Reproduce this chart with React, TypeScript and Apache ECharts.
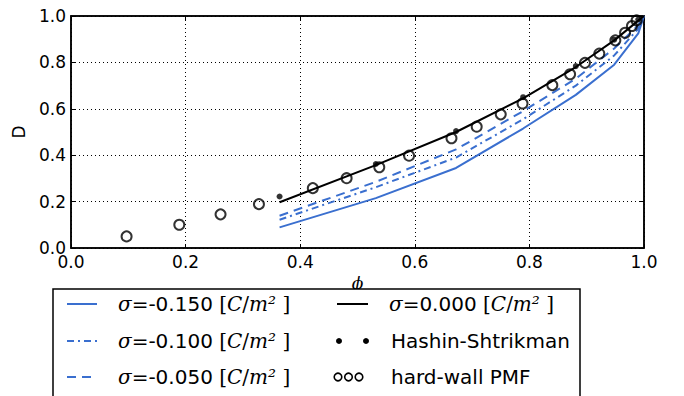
import React, { useEffect, useRef } from "react";
import * as echarts from "echarts";

// model curves (piecewise lines)
const phiModel = [0.364, 0.532, 0.672, 0.789, 0.881, 0.948, 0.99, 1.0];
const dSigma150 = [0.089, 0.215, 0.345, 0.515, 0.66, 0.79, 0.925, 1.0];
const dSigma100 = [0.122, 0.262, 0.39, 0.555, 0.7, 0.83, 0.945, 1.0];
const dSigma050 = [0.139, 0.285, 0.425, 0.59, 0.73, 0.86, 0.96, 1.0];
const dSigma000 = [0.197, 0.357, 0.5, 0.645, 0.78, 0.895, 0.98, 1.0];

// Hashin-Shtrikman points
const phiHS = [0.364, 0.532, 0.672, 0.789, 0.881, 0.948, 0.99];
const dHS = [0.222, 0.362, 0.504, 0.65, 0.784, 0.898, 0.985];

// hard-wall PMF points
const phiPMF = [0.097, 0.189, 0.261, 0.328, 0.422, 0.481, 0.538, 0.59, 0.664, 0.708, 0.75, 0.788, 0.84, 0.871, 0.897, 0.922, 0.95, 0.967, 0.979, 0.987];
const dPMF = [0.05, 0.1, 0.145, 0.189, 0.258, 0.301, 0.348, 0.398, 0.473, 0.523, 0.576, 0.623, 0.702, 0.749, 0.798, 0.838, 0.895, 0.928, 0.957, 0.981];

const legendSigma = ["-0.150", "-0.100", "-0.050", "0.000"];
const legendOther = ["Hashin-Shtrikman", "hard-wall PMF"];

const BLUE = "#3a6fcf";
const DASHDOT = [7, 4, 2, 4];
const DASHED = [9, 6];

const zip = (xs: number[], ys: number[]) => xs.map((x, i) => [x, ys[i]]);

const sigmaRich = {
  s: { fontFamily: "DejaVu Serif", fontStyle: "italic", fontSize: 20, fill: "#000" },
  n: { fontFamily: "DejaVu Sans", fontSize: 20, fill: "#000" },
  b: { fontFamily: "DejaVu Serif", fontSize: 20, fill: "#000" },
  i: { fontFamily: "DejaVu Serif", fontStyle: "italic", fontSize: 20, fill: "#000" },
};
const sigmaText = (v: string) => `{s|σ}{n|=${v} }{b|[}{i|C}{b|/}{i|m²}{b| ]}`;

export default function App() {
  const ref = useRef<HTMLDivElement>(null);
  useEffect(() => {
    if (!ref.current) return;
    const chart = echarts.init(ref.current, undefined, { renderer: "svg" });
    const rows = [304, 341, 377];
    const c1Line = [67, 97];
    const c2Line = [337, 368];
    const c1Text = 118;
    const c2Text = 389;
    const graphic: any[] = [
      {
        type: "rect",
        z: 100,
        shape: { x: 53, y: 289, width: 527, height: 130 },
        style: { fill: "#fff", stroke: "#000", lineWidth: 1.5 },
      },
      { type: "line", z: 101, shape: { x1: c1Line[0], y1: rows[0], x2: c1Line[1], y2: rows[0] }, style: { stroke: BLUE, lineWidth: 2 } },
      { type: "line", z: 101, shape: { x1: c1Line[0], y1: rows[1], x2: c1Line[1], y2: rows[1] }, style: { stroke: BLUE, lineWidth: 2, lineDash: DASHDOT } },
      { type: "line", z: 101, shape: { x1: c1Line[0], y1: rows[2], x2: c1Line[1], y2: rows[2] }, style: { stroke: BLUE, lineWidth: 2, lineDash: DASHED } },
      { type: "line", z: 101, shape: { x1: c2Line[0], y1: rows[0], x2: c2Line[1], y2: rows[0] }, style: { stroke: "#000", lineWidth: 2 } },
      { type: "circle", z: 101, shape: { cx: 339, cy: rows[1], r: 3 }, style: { fill: "#000" } },
      { type: "circle", z: 101, shape: { cx: 366, cy: rows[1], r: 3 }, style: { fill: "#000" } },
      { type: "circle", z: 101, shape: { cx: 338, cy: rows[2], r: 3.8 }, style: { fill: "none", stroke: "#000", lineWidth: 1.6 } },
      { type: "circle", z: 101, shape: { cx: 348.5, cy: rows[2], r: 3.8 }, style: { fill: "none", stroke: "#000", lineWidth: 1.6 } },
      { type: "circle", z: 101, shape: { cx: 359, cy: rows[2], r: 3.8 }, style: { fill: "none", stroke: "#000", lineWidth: 1.6 } },
    ];
    [0, 1, 2].forEach((k) => {
      graphic.push({
        type: "text",
        z: 101,
        x: c1Text,
        y: rows[k],
        style: { text: sigmaText(legendSigma[k]), rich: sigmaRich, verticalAlign: "middle", align: "left" },
      });
    });
    graphic.push({
      type: "text",
      z: 101,
      x: c2Text,
      y: rows[0],
      style: { text: sigmaText(legendSigma[3]), rich: sigmaRich, verticalAlign: "middle", align: "left" },
    });
    legendOther.forEach((t, k) => {
      graphic.push({
        type: "text",
        z: 101,
        x: c2Text + 2,
        y: rows[k + 1],
        style: { text: t, fontFamily: "DejaVu Sans", fontSize: 20, fill: "#000", verticalAlign: "middle", align: "left" },
      });
    });

    const axisCommon = {
      type: "value",
      min: 0,
      max: 1,
      interval: 0.2,
      axisLine: { show: true, onZero: false, lineStyle: { color: "#000", width: 1.5 } },
      axisTick: { show: true, inside: true, length: 4, lineStyle: { color: "#000", width: 1 } },
    };
    const mirror = {
      ...axisCommon,
      axisLabel: { show: false },
      splitLine: { show: false },
    };

    chart.setOption({
      animation: false,
      backgroundColor: "#fff",
      grid: {
        left: 71,
        right: 40,
        top: 16,
        bottom: 148,
        show: true,
        borderColor: "#000",
        borderWidth: 1.5,
      },
      xAxis: [
        {
          ...axisCommon,
          position: "bottom",
          splitLine: { show: true, lineStyle: { color: "#000", width: 1, type: [1, 3] } },
          name: "ϕ",
          nameLocation: "middle",
          nameGap: 22,
          nameTextStyle: { fontFamily: "DejaVu Serif", fontStyle: "italic", fontSize: 17, color: "#000" },
          axisLabel: {
            fontFamily: "DejaVu Sans",
            fontSize: 17,
            color: "#000",
            margin: 5,
            formatter: (v: number) => v.toFixed(1),
          },
        },
        { ...mirror, position: "top" },
      ],
      yAxis: [
        {
          ...axisCommon,
          position: "left",
          splitLine: { show: true, lineStyle: { color: "#000", width: 1, type: [1, 3] } },
          name: "D",
          nameLocation: "middle",
          nameGap: 44,
          nameTextStyle: { fontFamily: "DejaVu Sans", fontSize: 17, color: "#000" },
          axisLabel: {
            fontFamily: "DejaVu Sans",
            fontSize: 17,
            color: "#000",
            margin: 5,
            formatter: (v: number) => v.toFixed(1),
          },
        },
        { ...mirror, position: "right" },
      ],
      graphic,
      series: [
        {
          name: "σ=-0.150",
          type: "line",
          data: zip(phiModel, dSigma150),
          symbol: "none",
          lineStyle: { color: BLUE, width: 2 },
          z: 3,
        },
        {
          name: "σ=-0.100",
          type: "line",
          data: zip(phiModel, dSigma100),
          symbol: "none",
          lineStyle: { color: BLUE, width: 2, type: DASHDOT },
          z: 3,
        },
        {
          name: "σ=-0.050",
          type: "line",
          data: zip(phiModel, dSigma050),
          symbol: "none",
          lineStyle: { color: BLUE, width: 2, type: DASHED },
          z: 3,
        },
        {
          name: "σ=0.000",
          type: "line",
          data: zip(phiModel, dSigma000),
          symbol: "none",
          lineStyle: { color: "#000", width: 2 },
          z: 4,
        },
        {
          name: "Hashin-Shtrikman",
          type: "scatter",
          data: zip(phiHS, dHS),
          symbol: "circle",
          symbolSize: 6,
          itemStyle: { color: "#000" },
          z: 5,
        },
        {
          name: "hard-wall PMF",
          type: "scatter",
          data: zip(phiPMF, dPMF),
          symbol: "circle",
          symbolSize: 10,
          itemStyle: { color: "rgba(0,0,0,0)", borderColor: "#000", borderWidth: 2 },
          z: 6,
        },
      ],
    });
    return () => chart.dispose();
  }, []);
  return (
    <div
      ref={ref}
      style={{ position: "fixed", left: 0, top: 0, width: 684, height: 396, background: "#fff" }}
    />
  );
}
